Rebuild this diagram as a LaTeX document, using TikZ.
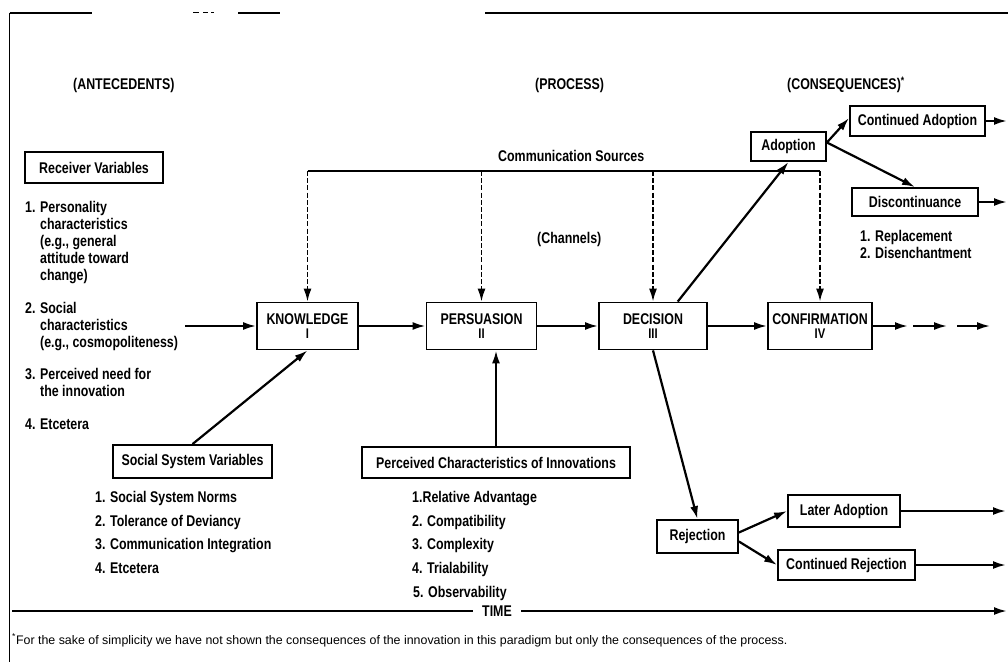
\documentclass[tikz,border=0pt]{standalone}
\usepackage{fontspec}
\setmainfont{Liberation Sans}[FakeStretch=0.8]
\newfontfamily\fnfont{Liberation Sans}
\usetikzlibrary{arrows.meta,calc}
\newcommand\mainf{\bfseries\fontsize{15.5}{17}\selectfont}
\newcommand\numf{\bfseries\fontsize{14}{12}\selectfont}
\begin{document}
\begin{tikzpicture}[x=1pt,y=-1pt,
  every node/.style={inner sep=0pt, font=\mainf},
  txt/.style={anchor=base west},
  box/.style={draw, line width=1.8pt},
  pbox/.style={box, minimum width=#1, minimum height=47pt, align=center},
  frame/.style={line width=1.7pt},
  plain/.style={line width=2.2pt},
  conn/.style={line width=2.2pt, -{Latex[length=13pt,width=8pt]}},
  dconn/.style={line width=1.8pt, dash pattern=on 5pt off 2.2pt, -{Latex[length=13pt,width=8pt]}}
]
\useasboundingbox (0,0) rectangle (1008,666);

% frame
\draw[frame] (9.5,13) -- (9.5,662);
\draw[frame] (9.5,13) -- (92,13);
\draw[line width=1pt] (193,13) -- (199,13) (203,13) -- (208,13) (211,13) -- (214,13);
\draw[frame] (238,13) -- (280,13);
\draw[frame] (485,13) -- (1008,13);

% headers
\node[txt] (hant) at (73,90) {(ANTECEDENTS)};
\node[txt] (hpro) at (535,90) {(PROCESS)};
\node[txt] (hcon) at (787,90) {(CONSEQUENCES)\textsuperscript{*}};

% receiver variables
\node[box, minimum width=138pt, minimum height=31pt] (rv) at (94,167.5) {Receiver Variables};
\node[txt] (r1a) at (25,212) {1. Personality};
\node[txt] (r1b) at (40,229) {characteristics};
\node[txt] (r1c) at (40,246) {(e.g., general};
\node[txt] (r1d) at (40,263) {attitude toward};
\node[txt] (r1e) at (40,280) {change)};
\node[txt] (r2a) at (25,313) {2. Social};
\node[txt] (r2b) at (40,330) {characteristics};
\node[txt] (r2c) at (40,347) {(e.g., cosmopoliteness)};
\node[txt] (r3a) at (25,379) {3. Perceived need for};
\node[txt] (r3b) at (40,396) {the innovation};
\node[txt] (r4a) at (25,429) {4. Etcetera};

% communication sources
\node[txt] (cs) at (498,161) {Communication Sources};
\node[txt] (ch) at (537,243) {(Channels)};

% process boxes
\node[pbox=101pt] (kn) at (307.5,326) {KNOWLEDGE\\[-3pt]\numf I};
\node[pbox=110pt] (pe) at (481.5,326) {PERSUASION\\[-3pt]\numf II};
\node[pbox=108pt] (de) at (653,326) {DECISION\\[-3pt]\numf III};
\node[pbox=104pt] (cf) at (820,326) {CONFIRMATION\\[-3pt]\numf IV};

\coordinate (csl) at (kn.north |- 0,171);
\coordinate (csr) at (cf.north |- 0,171);
\draw[plain] (csl) -- (csr);
\draw[dconn] (csl) -- (kn.north);
\draw[dconn] (pe.north |- csl) -- (pe.north);
\draw[dconn] (de.north |- csl) -- (de.north);
\draw[dconn] (csr) -- (cf.north);

\coordinate (rin) at (185,326);
\draw[conn] (rin) -- (kn.west);
\draw[conn] (kn.east) -- (pe.west);
\draw[conn] (pe.east) -- (de.west);
\draw[conn] (de.east) -- (cf.west);
\coordinate (o1) at (908,326);
\coordinate (o2) at (913,326);
\coordinate (o3) at (947,326);
\coordinate (o4) at (957,326);
\coordinate (o5) at (990,326);
\draw[conn] (cf.east) -- (o1);
\draw[conn, line width=1.8pt] (o2) -- (o3);
\draw[conn, line width=1.8pt] (o4) -- (o5);

% consequences
\node[box, minimum width=75pt, minimum height=29pt] (ad) at (788.5,146.5) {Adoption};
\node[box, minimum width=135pt, minimum height=30pt] (cad) at (917.5,121) {Continued Adoption};
\node[box, minimum width=126pt, minimum height=28pt] (dis) at (915,202) {Discontinuance};
\node[txt] (rp1) at (860,241) {1. Replacement};
\node[txt] (rp2) at (860,258) {2. Disenchantment};

\draw[conn] ($(de.north)!0.45!(de.north east)$) -- (ad.south);
\draw[conn] ($(ad.east)+(0,-4)$) -- ($(cad.west)+(0,-3)$);
\draw[conn] ($(ad.east)+(0,-4)$) -- (dis.north);
\coordinate (oca) at (1007,121);
\coordinate (odi) at (1007,202);
\draw[conn] (cad.east) -- (oca);
\draw[conn] (dis.east) -- (odi);

\node[box, minimum width=81pt, minimum height=33pt] (rej) at (697.5,536.5) {Rejection};
\node[box, minimum width=112pt, minimum height=32pt] (la) at (844,511) {Later Adoption};
\node[box, minimum width=137pt, minimum height=30pt] (crj) at (846.5,565) {Continued Rejection};
\draw[conn] (de.south) -- (rej.north);
\draw[conn] ($(rej.east)+(0,-4)$) -- (la.west);
\draw[conn] ($(rej.east)+(0,5)$) -- (crj.west);
\coordinate (ola) at (1006,511);
\coordinate (ocr) at (1006,565);
\draw[conn] (la.east) -- (ola);
\draw[conn] (crj.east) -- (ocr);

% social system variables
\node[box, minimum width=159pt, minimum height=33pt] (ssv) at (192.5,461.5) {Social System Variables};
\draw[conn] (ssv.north) -- (kn.south);
\node[txt] (s1) at (95,502) {1. Social System Norms};
\node[txt] (s2) at (95,526) {2. Tolerance of Deviancy};
\node[txt] (s3) at (95,549) {3. Communication Integration};
\node[txt] (s4) at (95,573) {4. Etcetera};

% perceived characteristics
\node[box, minimum width=268pt, minimum height=31pt] (pc) at (496,462.5) {Perceived Characteristics of Innovations};
\draw[conn] (pc.north) -- (pc.north |- pe.south);
\node[txt] (p1) at (412,502) {1.Relative Advantage};
\node[txt] (p2) at (412,526) {2. Compatibility};
\node[txt] (p3) at (412,549) {3. Complexity};
\node[txt] (p4) at (412,573) {4. Trialability};
\node[txt] (p5) at (413,597) {5. Observability};

% time
\node[inner xsep=9pt] (time) at (497,611) {TIME};
\coordinate (tl) at (12,611);
\coordinate (tr) at (1007,611);
\draw[plain] (tl) -- (time.west);
\draw[conn] (time.east) -- (tr);

% footnote
\node[txt, font=\fnfont\fontsize{12.4}{14}\selectfont] (fn) at (12,644) {\textsuperscript{*}For the sake of simplicity we have not shown the consequences of the innovation in this paradigm but only the consequences of the process.};
\end{tikzpicture}
\end{document}
